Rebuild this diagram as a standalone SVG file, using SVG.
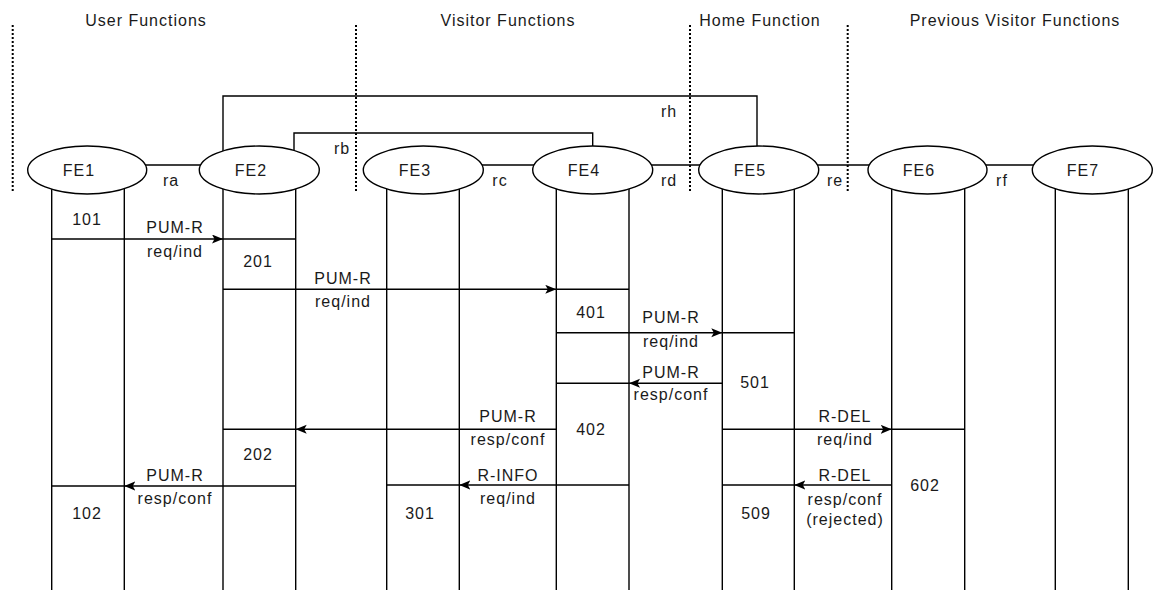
<svg xmlns="http://www.w3.org/2000/svg" width="1165" height="590" viewBox="0 0 1165 590">
<style>
text{font-family:"Liberation Sans",Arial,sans-serif;font-size:16px;letter-spacing:1px;fill:#1a1a1a;text-anchor:middle}
.ln{stroke:#000;stroke-width:1.4;fill:none}
.dot{stroke:#000;stroke-width:2;stroke-dasharray:2 2;fill:none}
.el{fill:#fff;stroke:#000;stroke-width:1.4}
.msg{stroke:#000;stroke-width:1.4;fill:none;marker-mid:url(#ah)}
</style>
<defs>
<marker id="ah" markerUnits="userSpaceOnUse" markerWidth="12" markerHeight="10" refX="11" refY="4.5" orient="auto">
<path d="M0,0 L11,4.5 L0,9 L2.5,4.5 z" fill="#000"/>
</marker>
</defs>
<rect width="1165" height="590" fill="#fff"/>
<g id="domains">
<text x="146" y="26">User Functions</text>
<text x="508" y="26">Visitor Functions</text>
<text x="760" y="26">Home Function</text>
<text x="1015" y="26">Previous Visitor Functions</text>
<path class="dot" d="M12.7,25 V193 M356,25 V193 M690,25 V193 M847.7,25 V193"/>
</g>
<g id="connectors">
<path class="ln" d="M88,165 H259 M423,165 H759 M759,165 H1092"/>
<path class="ln" d="M223,170 V96 H757 V170"/>
<path class="ln" d="M294,170 V133 H592.7 V170"/>
<text x="171" y="186">ra</text>
<text x="342" y="154">rb</text>
<text x="500" y="186">rc</text>
<text x="669" y="186">rd</text>
<text x="835" y="186">re</text>
<text x="1002" y="186">rf</text>
<text x="669" y="117">rh</text>
</g>
<g id="lifelines">
<path class="ln" d="M51.7,189 V590 M124.3,189 V590 M223,189 V590 M295.7,189 V590 M386.7,189 V590 M459.3,189 V590 M556.3,189 V590 M629,189 V590 M722.3,189 V590 M794.3,189 V590 M891.7,189 V590 M964.7,189 V590 M1055.3,189 V590 M1128.3,189 V590"/>
</g>
<g id="FE1"><ellipse class="el" cx="87.2" cy="170" rx="59.5" ry="24"/><text x="79" y="176">FE1</text></g>
<g id="FE2"><ellipse class="el" cx="259.3" cy="170" rx="60" ry="24"/><text x="251" y="176">FE2</text></g>
<g id="FE3"><ellipse class="el" cx="423.3" cy="170" rx="60" ry="24"/><text x="415" y="176">FE3</text></g>
<g id="FE4"><ellipse class="el" cx="592.7" cy="170" rx="60" ry="24"/><text x="584" y="176">FE4</text></g>
<g id="FE5"><ellipse class="el" cx="758.7" cy="170" rx="60" ry="24"/><text x="750" y="176">FE5</text></g>
<g id="FE6"><ellipse class="el" cx="927.5" cy="170" rx="59.5" ry="24"/><text x="919" y="176">FE6</text></g>
<g id="FE7"><ellipse class="el" cx="1092.3" cy="170" rx="60" ry="24"/><text x="1083" y="176">FE7</text></g>
<g id="messages">
<path class="msg" d="M51.7,239 H223 H295.7"/>
<text x="175" y="233">PUM-R</text><text x="175" y="257">req/ind</text>
<text x="87" y="225">101</text>
<text x="258" y="267">201</text>
<path class="msg" d="M223,289.3 H556.3 H629"/>
<text x="343" y="284">PUM-R</text><text x="343" y="307">req/ind</text>
<text x="591" y="318">401</text>
<path class="msg" d="M556.3,332.7 H722.3 H794.3"/>
<text x="671" y="323">PUM-R</text><text x="671" y="347">req/ind</text>
<path class="msg" d="M722.3,383.3 H629 H556.3"/>
<text x="671" y="378">PUM-R</text><text x="671" y="400">resp/conf</text>
<text x="755" y="388">501</text>
<path class="msg" d="M556.3,429.3 H295.7 H223"/>
<text x="508" y="422">PUM-R</text><text x="508" y="445">resp/conf</text>
<text x="591" y="435">402</text>
<text x="258" y="460">202</text>
<path class="msg" d="M722.3,429.3 H891.7 H964.7"/>
<text x="845" y="422">R-DEL</text><text x="845" y="445">req/ind</text>
<path class="msg" d="M295.7,486 H124.3 H51.7"/>
<text x="175" y="481">PUM-R</text><text x="175" y="504">resp/conf</text>
<text x="87" y="519">102</text>
<path class="msg" d="M629,485 H459.3 H386.7"/>
<text x="508" y="481">R-INFO</text><text x="508" y="504">req/ind</text>
<text x="420" y="519">301</text>
<path class="msg" d="M891.7,485 H794.3 H722.3"/>
<text x="845" y="481">R-DEL</text><text x="845" y="505">resp/conf</text><text x="845" y="525">(rejected)</text>
<text x="756" y="519">509</text>
<text x="925" y="491">602</text>
</g>
</svg>
